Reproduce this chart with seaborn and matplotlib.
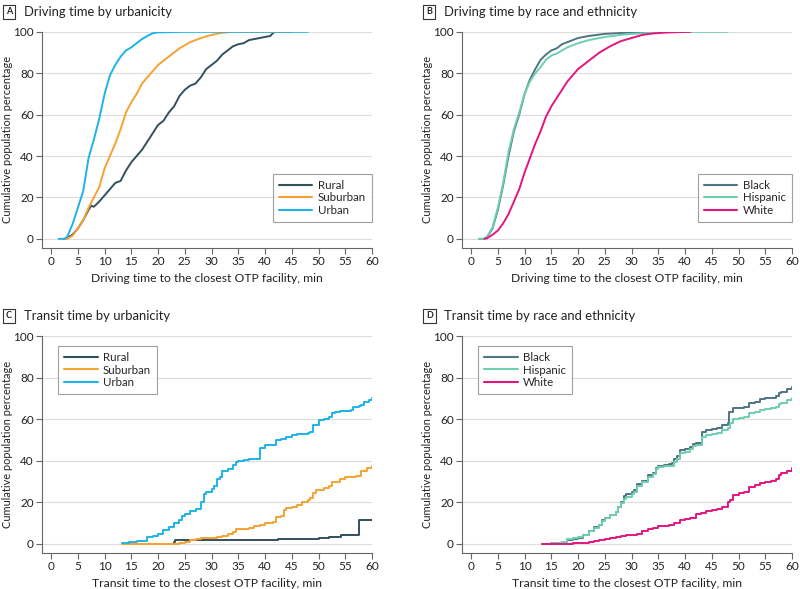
import numpy as np
import pandas as pd
import matplotlib
matplotlib.use("Agg")
import matplotlib.pyplot as plt
import seaborn as sns

# ── Data ─────────────────────────────────────────────────────────────────────
# Panel A: driving time by urbanicity
drive_rural_t = [2.5, 3, 4, 5, 6, 7, 7.5, 8, 9, 10, 11, 12, 13, 14, 15, 16, 17, 18, 19, 20,
                 21, 22, 23, 24, 25, 26, 27, 28, 29, 30, 31, 32, 33, 34, 35, 36, 37, 38, 39,
                 40, 41, 41.5, 42, 45]
drive_rural_pct = [0, 0.5, 2, 5, 9, 14, 16, 15.5, 18, 21, 24, 27, 28, 33, 37, 40, 43, 47, 51, 55,
                   57, 61, 64, 69, 72, 74, 75, 78, 82, 84, 86, 89, 91, 93, 94, 94.5, 96, 96.5, 97,
                   97.5, 98, 99.5, 100, 100]
drive_sub_t = [2, 3, 4, 5, 6, 7, 8, 9, 10, 11, 12, 13, 14, 15, 16, 17, 18, 19, 20, 22, 24, 26,
               28, 30, 32, 34, 45]
drive_sub_pct = [0, 0, 1.5, 5, 9, 15, 20, 25, 34, 40, 46, 53, 61, 66, 70, 75, 78, 81, 84, 88, 92,
                 95, 97, 98.5, 99.5, 100, 100]
drive_urb_t = [1.4, 2.5, 3, 4, 5, 6, 7, 8, 9, 10, 11, 12, 13, 14, 15, 16, 17, 18, 19, 20, 25, 48]
drive_urb_pct = [0, 0, 1, 7, 15, 23, 39, 48, 58, 70, 79, 84, 88, 91, 92.5, 94.5, 96.5, 98, 99.3,
                 99.7, 100, 100]

# Panel B: driving time by race and ethnicity
drive_black_t = [1.5, 2.5, 3, 4, 5, 6, 7, 8, 9, 10, 11, 12, 13, 14, 15, 16, 17, 18, 20, 22, 25,
                 30, 35, 41]
drive_black_pct = [0, 0, 1, 5, 14, 26, 40, 52, 60, 70, 77, 82, 86.5, 89, 91, 92, 94, 95, 97, 98,
                   99, 99.7, 100, 100]
drive_hisp_t = [1.5, 2.5, 3, 4, 5, 6, 7, 8, 9, 10, 11, 12, 13, 14, 15, 16, 17, 18, 20, 22, 25,
                28, 30, 35, 40, 48]
drive_hisp_pct = [0, 0, 1, 5.5, 15, 27, 42, 53, 61, 70, 76, 80, 83, 86.5, 88.5, 89.5, 91, 92.5,
                  94.5, 96, 97.5, 98.5, 99, 99.7, 100, 100]
drive_white_t = [2.5, 3, 4, 5, 6, 7, 8, 9, 10, 11, 12, 13, 14, 15, 16, 17, 18, 19, 20, 22, 24,
                 26, 28, 30, 32, 34, 36, 38, 41]
drive_white_pct = [0, 0.3, 2, 4, 7.5, 12, 18, 24, 32, 39, 46, 52, 59, 64, 68, 72, 76, 79, 82, 86,
                   90, 93, 95.5, 97, 98.5, 99.2, 99.6, 99.8, 100]

# Panel C: transit time by urbanicity
transit_rural_t = [22.5, 23, 23.2, 42, 42.5, 49, 50, 52, 54, 54.2, 57.3, 57.5, 60]
transit_rural_pct = [0, 1, 2, 2, 2.5, 2.5, 3, 3.2, 3.5, 4.5, 4.5, 11.5, 11.5]
transit_sub_t = [13.3, 20, 24, 25, 26, 27, 28, 30, 31, 32, 33, 34, 34.5, 36, 37, 38, 39, 40, 41.5,
                 42, 43, 43.5, 44, 45, 46, 47, 48, 48.5, 49, 49.5, 51, 52, 52.5, 54, 55, 57, 58,
                 59, 60]
transit_sub_pct = [0, 0.2, 0.5, 1, 2, 2.5, 2.7, 3, 3.5, 4, 5, 5.5, 7, 7.2, 7.5, 8.5, 9, 10, 10.5,
                   13, 13.5, 16.5, 17.5, 18, 18.5, 20, 21, 22, 24.5, 26, 27, 28, 30, 31, 32, 32.5,
                   35, 36.5, 37.5]
transit_urb_t = [13.3, 14.5, 16, 17, 18, 19, 20, 21, 22, 23, 24, 24.5, 25, 26, 27, 28, 28.5, 29,
                 30, 30.5, 31, 31.5, 32, 33, 34, 34.5, 35, 36, 37, 38, 39, 40, 41, 42, 43, 44,
                 45, 46, 48, 48.5, 49, 50, 51, 52, 52.5, 53, 54, 56, 56.5, 57.5, 58, 58.5, 59.5,
                 60]
transit_urb_pct = [0.5, 1, 1.2, 1.5, 3.5, 4, 5, 6.5, 8, 10, 11.5, 13.5, 14.5, 16, 17, 20, 24, 25,
                   26.5, 28, 31, 32, 35, 36, 38, 39.5, 40, 40.5, 41, 41, 46, 47.5, 47.5, 50, 50.5,
                   51.5, 52.5, 53, 53.5, 54, 57, 59.5, 60, 61, 63, 63.5, 64, 64.5, 66, 66.5, 67,
                   68.5, 69, 70]

# Panel D: transit time by race and ethnicity
transit_black_t = [13.3, 15, 17, 18, 19, 20, 21, 22, 23, 24, 24.5, 25, 26, 27, 27.5, 28, 28.5,
                   29, 30, 30.5, 31, 32, 33, 34, 34.5, 35, 36, 37, 37.5, 38, 38.5, 39, 40, 41,
                   41.5, 42, 43, 43.2, 44, 45, 46, 47, 48, 48.3, 49, 50, 51, 52, 53, 54, 55, 56,
                   57, 57.5, 58, 59, 60]
transit_black_pct = [0, 0.5, 1, 2, 2.5, 3, 4.5, 6, 8, 9, 11.5, 12.5, 14, 15.5, 18, 20, 23, 24, 25,
                     26, 29, 30.5, 33, 34, 36.5, 37.5, 38, 38.5, 39, 41, 42.5, 45, 45.5, 46.5, 48,
                     48.5, 48.5, 54, 55, 55.5, 56, 57, 58, 63.5, 65.5, 65.5, 66, 68, 68.5, 69.5,
                     70, 70, 71, 72.5, 73, 74.5, 75.5]
transit_hisp_t = [13.3, 15, 17, 18, 19, 20, 21, 22, 23, 24, 24.5, 25, 26, 27, 27.5, 28, 28.5, 29,
                  30, 30.5, 31, 32, 33, 34, 34.5, 35, 36, 37, 38, 38.5, 39, 40, 41, 41.5, 42, 43,
                  43.2, 44, 45, 46, 47, 48, 48.5, 49, 50, 51, 52, 53, 54, 55, 56, 57, 57.5, 58,
                  59, 60]
transit_hisp_pct = [0, 0.5, 1, 2.5, 3, 3.5, 4.5, 6, 7.5, 9, 11, 12.5, 14, 15.5, 18, 19.5, 21.5,
                    22.5, 24, 25, 28, 30, 32, 33.5, 36, 37, 37.5, 37.5, 39.5, 41, 43.5, 44, 45.5,
                    47, 47.5, 47.5, 51.5, 52.5, 53, 53.5, 55, 56, 58, 60, 60.5, 61, 63, 63.5,
                    64.5, 65, 65.5, 66, 67.5, 68, 69, 70]
transit_white_t = [13.3, 17, 19, 21, 22, 23, 24, 25, 26, 27, 28, 29, 30, 31, 32, 33, 34, 35, 37,
                   38, 39, 40, 41, 42, 43, 44, 45, 46, 47, 48, 48.5, 49, 50, 51, 52, 53, 54, 55,
                   56, 57, 57.5, 58, 59, 60]
transit_white_pct = [0, 0, 0.3, 0.6, 1, 1.5, 2, 2.5, 3, 3.3, 3.8, 4.2, 4.5, 5, 6, 7, 7.5, 8.5, 9,
                     10, 11.5, 12, 12.5, 14.5, 15, 16, 16.5, 17, 18, 20, 21, 23.5, 24.5, 25, 27.5,
                     28.5, 29.5, 30, 30.5, 31, 33, 34, 35, 36.5]

urban_groups = ["Rural", "Suburban", "Urban"]
race_groups = ["Black", "Hispanic", "White"]
urban_colors = {"Rural": "#33505e", "Suburban": "#f6a232", "Urban": "#1db3e8"}
race_colors = {"Black": "#4f7483", "Hispanic": "#6dceb1", "White": "#e4157f"}

xticks = list(range(0, 61, 5))
yticks = list(range(0, 101, 20))


def long_df(series):
    frames = []
    for name, (t, pct) in series.items():
        frames.append(pd.DataFrame({"t": t, "pct": pct, "group": name}))
    return pd.concat(frames, ignore_index=True)


panels = [
    # letter, title, xlabel, data, groups, colours, axes rect, legend loc/anchor, steps
    ("A", "Driving time by urbanicity", "Driving time to the closest OTP facility, min",
     {"Rural": (drive_rural_t, drive_rural_pct), "Suburban": (drive_sub_t, drive_sub_pct),
      "Urban": (drive_urb_t, drive_urb_pct)},
     urban_groups, urban_colors, [0.0525, 0.579, 0.4125, 0.367], ("lower right", (1.0, 0.12)), False),
    ("B", "Driving time by race and ethnicity", "Driving time to the closest OTP facility, min",
     {"Black": (drive_black_t, drive_black_pct), "Hispanic": (drive_hisp_t, drive_hisp_pct),
      "White": (drive_white_t, drive_white_pct)},
     race_groups, race_colors, [0.5775, 0.579, 0.4125, 0.367], ("lower right", (1.0, 0.12)), False),
    ("C", "Transit time by urbanicity", "Transit time to the closest OTP facility, min",
     {"Rural": (transit_rural_t, transit_rural_pct), "Suburban": (transit_sub_t, transit_sub_pct),
      "Urban": (transit_urb_t, transit_urb_pct)},
     urban_groups, urban_colors, [0.0525, 0.061, 0.4125, 0.3685], ("upper left", (0.048, 0.955)), True),
    ("D", "Transit time by race and ethnicity", "Transit time to the closest OTP facility, min",
     {"Black": (transit_black_t, transit_black_pct), "Hispanic": (transit_hisp_t, transit_hisp_pct),
      "White": (transit_white_t, transit_white_pct)},
     race_groups, race_colors, [0.5775, 0.061, 0.4125, 0.3685], ("upper left", (0.048, 0.955)), True),
]

sns.set_theme(style="white")
plt.rcParams['font.family'] = ['Lato', 'DejaVu Sans']

fig = plt.figure(figsize=(8, 5.89), dpi=100)

for letter, title, xlabel, series, groups, colors, rect, (loc, anchor), steps in panels:
    ax = fig.add_axes(rect)
    df = long_df(series)
    sns.lineplot(data=df, x="t", y="pct", hue="group", hue_order=groups, palette=colors,
                 linewidth=1.4, estimator=None, sort=False, ax=ax,
                 drawstyle="steps-post" if steps else "default")

    ax.set_xlim(-1.7, 60)
    ax.set_ylim(-4.4, 100)
    ax.set_xticks(xticks)
    ax.set_yticks(yticks)
    ax.yaxis.grid(True, color="#dcdcdc", linewidth=0.8)
    ax.set_axisbelow(True)
    for s in ["top", "right"]:
        ax.spines[s].set_visible(False)
    for s in ["left", "bottom"]:
        ax.spines[s].set_color("#666666")
        ax.spines[s].set_linewidth(0.8)
    ax.tick_params(axis="both", direction="out", length=4, width=0.8, color="#666666",
                   labelsize=8.5, labelcolor="#222222", pad=2, bottom=True, left=True)
    ax.set_xlabel(xlabel, fontsize=8.7, color="#222222", labelpad=4)
    ax.set_ylabel("Cumulative population percentage", fontsize=7.9, color="#222222")
    ax.yaxis.set_label_coords(-0.087, 0.5)

    leg = ax.legend(loc=loc, bbox_to_anchor=anchor, fontsize=8.3, frameon=True, fancybox=False,
                    edgecolor="#888888", handlelength=2.9, handletextpad=0.45,
                    labelspacing=0.12, borderpad=0.55, borderaxespad=0, title=None)
    leg.get_frame().set_linewidth(0.8)
    for line in leg.get_lines():
        line.set_linewidth(1.5)

    # panel letter box + title
    bx = rect[0] - 0.045
    ty = rect[1] + rect[3] + 0.034
    fig.text(bx, ty, letter, fontsize=6.5, fontweight="bold", color="#222222", va="center",
             ha="left", bbox=dict(boxstyle="square,pad=0.3", fc="white", ec="#333333", lw=0.8))
    fig.text(bx + 0.023, ty, title, fontsize=9.4, color="#222222", va="center", ha="left")

fig.savefig("out.png", dpi=100)
